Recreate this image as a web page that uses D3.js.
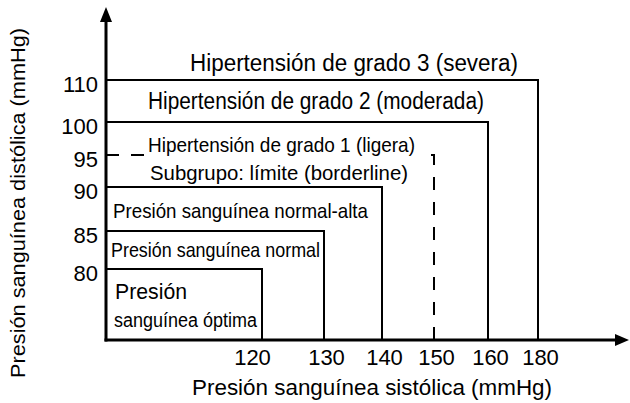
<!DOCTYPE html>
<html lang="es">
<head>
  <meta charset="UTF-8">
  <title>Clasificación de la presión sanguínea</title>
  <script src="https://d3js.org/d3.v7.min.js"></script>
  <style>
    body { margin: 0; background: #fff; }
    svg { display: block; font-family: "Liberation Sans", Arial, Helvetica, sans-serif; }
  </style>
</head>
<body>
<svg id="chart" width="630" height="403"></svg>

<script>
  // Categories, from the innermost box to the open outer region
  const categories = [
    "Presión sanguínea óptima",
    "Presión sanguínea normal",
    "Presión sanguínea normal-alta",
    "Hipertensión de grado 1 (ligera)",
    "Hipertensión de grado 2 (moderada)",
    "Hipertensión de grado 3 (severa)"
  ];
  // Upper limits (mmHg) of each closed box
  const systolicLimits = [120, 130, 140, 160, 180];
  const diastolicLimits = [80, 85, 90, 100, 110];

  // Borderline subgroup inside grade 1 (dashed)
  const subgroupLabel = "Subgrupo: límite (borderline)";
  const subgroupLimits = [150, 95]; // systolic, diastolic

  const xTicks = [120, 130, 140, 150, 160, 180];
  const yTicks = [80, 85, 90, 95, 100, 110];
  const xTitle = "Presión sanguínea sistólica (mmHg)";
  const yTitle = "Presión sanguínea distólica (mmHg)";

  const svg = d3.select("#chart");

  // The figure is schematic: the scales are piecewise, not proportional.
  // First value is the axis origin, last one the arrow tip.
  let x = d3.scaleLinear()
          .domain([100, 120, 130, 140, 150, 160, 180, 200])
          .range([106, 262, 324, 382, 434, 488, 538, 629]);
  let y = d3.scaleLinear()
          .domain([60, 80, 85, 90, 95, 100, 110, 130])
          .range([340, 269, 231, 187, 155, 122, 80, 7]);

  const x0 = x.domain()[0], y0 = y.domain()[0];

  // Category boxes: top edge from the y axis, right edge down to the x axis
  let boxes = systolicLimits.map((s, i) => ({s: s, d: diastolicLimits[i]}));
  svg.append("g")
          .selectAll("path")
          .data(boxes)
          .enter().append("path")
          .attr("fill", "none")
          .attr("stroke", "black")
          .attr("stroke-width", 2)
          .attr("d", b => `M${x(x0)},${y(b.d)}H${x(b.s)}V${y(y0)}`);

  // Dashed borderline box
  svg.append("path")
          .attr("fill", "none")
          .attr("stroke", "black")
          .attr("stroke-width", 2)
          .attr("stroke-dasharray", "13,12")
          .attr("d", `M${x(x0)},${y(subgroupLimits[1])}H${x(subgroupLimits[0])}V${y(y0)}`);

  // Labels (x, baseline, font size, drawn width)
  function label(text, lx, ly, size, len) {
    return svg.append("text")
            .attr("x", lx)
            .attr("y", ly)
            .attr("font-size", size)
            .attr("textLength", len)
            .attr("lengthAdjust", "spacingAndGlyphs")
            .attr("fill", "black")
            .text(text);
  }

  let optimal = categories[0].split(" ");
  label(optimal[0], 115, 299, 22, 72);
  label(optimal.slice(1).join(" "), 114, 327, 20, 143);
  label(categories[1], 111, 257, 21, 209);
  label(categories[2], 113, 218, 21, 255);

  // grade 1 label sits on the dashed line: white band behind it
  let bg = svg.append("rect").attr("fill", "white");
  let g1 = label(categories[3], 148, 152, 21, 267);
  let bb = g1.node().getBBox();
  bg.attr("x", bb.x - 2).attr("y", bb.y).attr("width", bb.width + 12).attr("height", bb.height);

  label(subgroupLabel, 150, 180, 21, 258);
  label(categories[4], 148, 109, 23, 336);
  label(categories[5], 190, 71, 23, 328);

  // Axes
  let xAxis = svg.append("g")
          .attr("transform", `translate(0,${y(y0)})`)
          .call(d3.axisBottom(x).tickValues(xTicks).tickSize(0).tickPadding(9));
  xAxis.select(".domain").remove();
  xAxis.selectAll("text")
          .attr("font-size", 22)
          .attr("font-family", null)
          .attr("fill", "black")
          .attr("dx", d => d === xTicks[0] ? -10 : 2);

  let yAxis = svg.append("g")
          .attr("transform", `translate(${x(x0)},0)`)
          .call(d3.axisLeft(y).tickValues(yTicks).tickSize(0).tickPadding(8));
  yAxis.select(".domain").remove();
  yAxis.selectAll("text")
          .attr("font-size", 22)
          .attr("font-family", null)
          .attr("fill", "black")
          .attr("dy", "0.5em");

  // Axis lines with arrow heads
  const ax = x(x0), ay = y(y0), xEnd = x.range()[x.range().length - 1], yEnd = y.range()[y.range().length - 1];
  svg.append("line")
          .attr("x1", ax - 1.5).attr("y1", ay)
          .attr("x2", xEnd - 12).attr("y2", ay)
          .attr("stroke", "black").attr("stroke-width", 3);
  svg.append("line")
          .attr("x1", ax).attr("y1", ay + 1.5)
          .attr("x2", ax).attr("y2", yEnd + 14)
          .attr("stroke", "black").attr("stroke-width", 3);
  svg.append("path")
          .attr("fill", "black")
          .attr("d", `M${xEnd},${ay}L${xEnd - 14},${ay - 6}L${xEnd - 14},${ay + 6}Z`);
  svg.append("path")
          .attr("fill", "black")
          .attr("d", `M${ax},${yEnd}L${ax - 6},${yEnd + 15}L${ax + 6},${yEnd + 15}Z`);

  // Axis titles
  label(xTitle, 192, 395, 22, 360);
  svg.append("text")
          .attr("transform", "translate(25,203) rotate(-90)")
          .attr("text-anchor", "middle")
          .attr("font-size", 21)
          .attr("textLength", 350)
          .attr("lengthAdjust", "spacingAndGlyphs")
          .text(yTitle);
</script>
</body>
</html>
